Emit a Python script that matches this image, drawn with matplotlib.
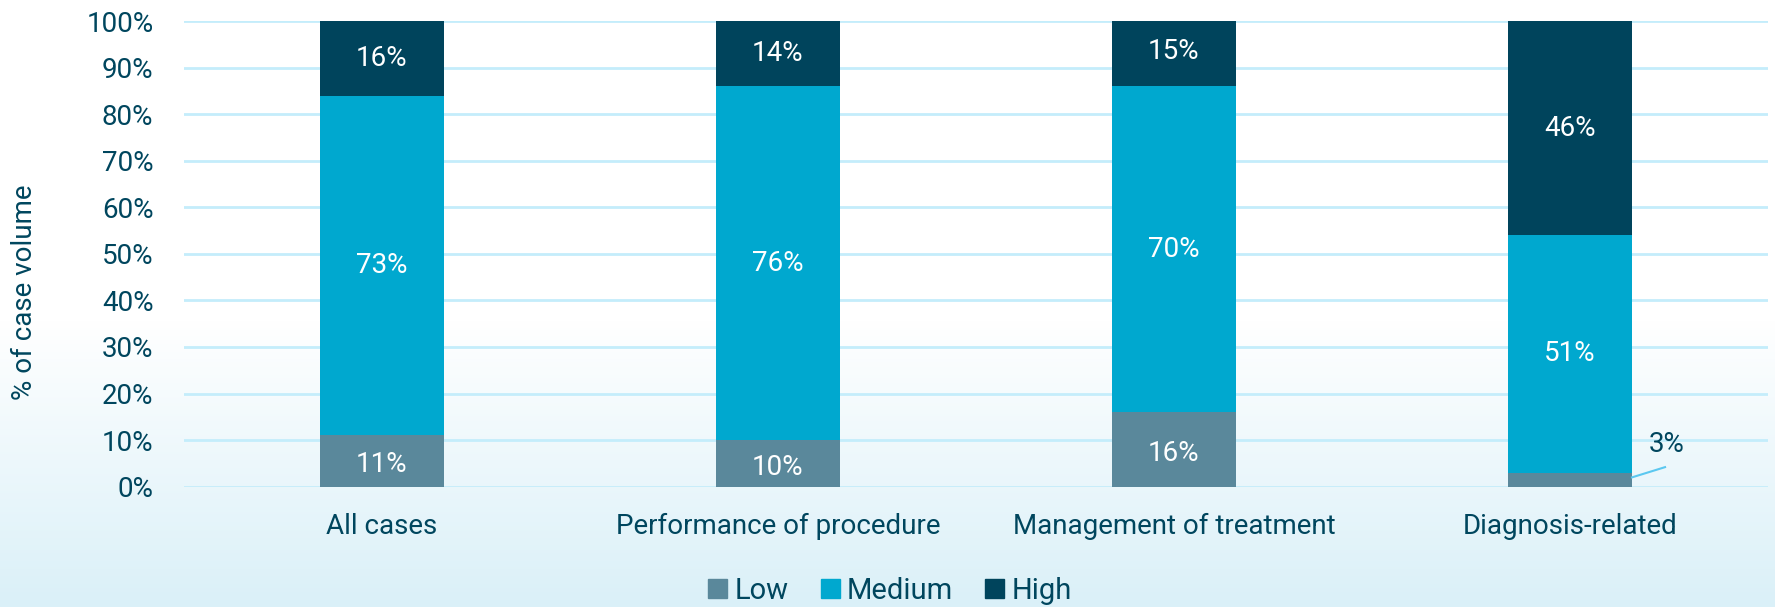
import numpy as np
import matplotlib
matplotlib.use("Agg")
import matplotlib.pyplot as plt
from matplotlib.patches import Patch

categories = ["All cases", "Performance of procedure", "Management of treatment", "Diagnosis-related"]
low = [11, 10, 16, 3]
medium = [73, 76, 70, 51]
high = [16, 14, 15, 46]
series_names = ["Low", "Medium", "High"]
yticks = [0, 10, 20, 30, 40, 50, 60, 70, 80, 90, 100]

c_low = "#5A889B"
c_med = "#00A8CF"
c_high = "#00445C"
txt = "#00465E"
grid_c = "#C4EDFB"
fs = 20

plt.rcParams['font.family'] = ['Roboto', 'DejaVu Sans']
fig = plt.figure(figsize=(17.75, 6.07), dpi=100)

# gradient background
bg = fig.add_axes([0, 0, 1, 1], zorder=-10)
h = 607
grad = np.ones((h, 1, 3))
top_col = np.array([1.0, 1.0, 1.0])
bot_col = np.array([218, 240, 248]) / 255.0
start = 320
for i in range(h):
    if i < start:
        grad[i, 0] = top_col
    else:
        t = (i - start) / (h - start)
        grad[i, 0] = top_col * (1 - t) + bot_col * t
bg.imshow(grad, aspect='auto', extent=[0, 1, 0, 1])
bg.axis('off')

ax = fig.add_axes([184/1775, 1 - 486.7/607, (1768-184)/1775, (486.7-21)/607])
ax.patch.set_alpha(0)
x = np.arange(len(categories))
w = 0.313
ax.bar(x, low, w, color=c_low, zorder=3)
ax.bar(x, medium, w, bottom=low, color=c_med, zorder=3)
bottom2 = [a + b for a, b in zip(low, medium)]
ax.bar(x, high, w, bottom=bottom2, color=c_high, zorder=3)

for i in range(len(categories)):
    if i == 3:
        ax.text(i + 0.245, 9.0, f"{low[i]}%", color=txt, fontsize=fs, ha='center', va='center', zorder=4)
        ax.plot([i + w/2, i + 0.24], [low[i]/2 + 0.5, 4.2], color="#5BC8F0", lw=1.5, zorder=4)
    else:
        ax.text(i, low[i]/2 - 0.8, f"{low[i]}%", color='white', fontsize=fs, ha='center', va='center', zorder=4)
    ax.text(i, low[i] + medium[i]/2, f"{medium[i]}%", color='white', fontsize=fs, ha='center', va='center', zorder=4)
    ax.text(i, bottom2[i] + high[i]/2, f"{high[i]}%", color='white', fontsize=fs, ha='center', va='center', zorder=4)

ax.set_xlim(-0.5, len(categories) - 0.5)
ax.set_ylim(0, 100)
ax.set_yticks(yticks)
ax.set_yticklabels([f"{v}%" for v in yticks], color=txt, fontsize=fs)
ax.set_xticks(x)
ax.set_xticklabels(categories, color=txt, fontsize=fs)
ax.tick_params(axis='both', length=0)
ax.tick_params(axis='y', pad=22)
ax.tick_params(axis='x', pad=19)
ax.yaxis.grid(True, color=grid_c, lw=2, zorder=0)
ax.set_axisbelow(True)
for s in ax.spines.values():
    s.set_visible(False)

fig.text(25/1775, 1 - 292/607, "% of case volume", rotation=90, color=txt, fontsize=fs,
         ha='center', va='center')

handles = [Patch(color=c_low), Patch(color=c_med), Patch(color=c_high)]
fig.legend(handles, series_names, loc='center', bbox_to_anchor=(890/1775, 1 - 591/607),
           ncol=3, frameon=False, fontsize=fs + 1, labelcolor=txt, handlelength=0.65, handleheight=0.65,
           handletextpad=0.25, columnspacing=1.1, borderaxespad=0)

fig.savefig("out.png", dpi=100)
